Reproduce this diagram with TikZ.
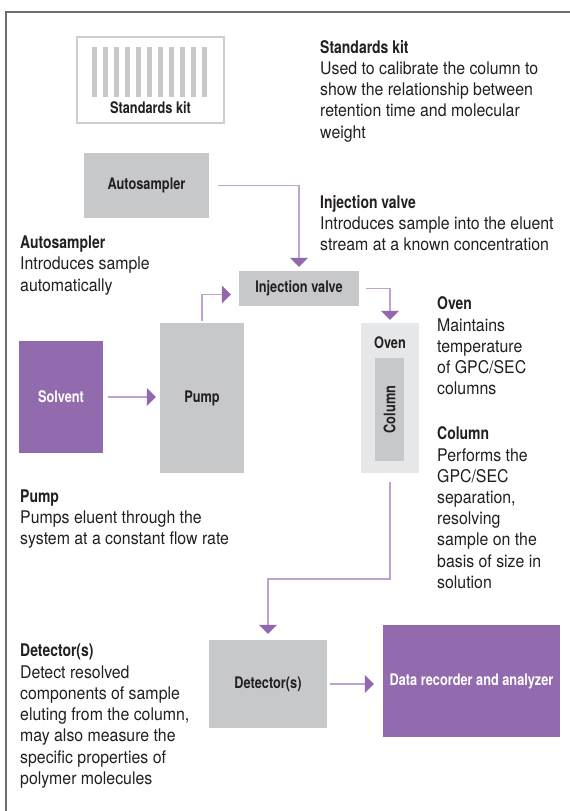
\documentclass[tikz,border=0pt]{standalone}
\usepackage{fontspec}
\setmainfont{TeX Gyre Heros}[FakeStretch=0.91]
\newfontfamily\headfont{TeX Gyre Heros}[FakeStretch=0.8]
\usepackage{tikz}
\usetikzlibrary{arrows.meta}
\usetikzlibrary{positioning}
\definecolor{boxgray}{HTML}{C7C8CA}
\definecolor{ovengray}{HTML}{E6E7E8}
\definecolor{kitline}{HTML}{CDCDCF}
\definecolor{violet}{HTML}{926BAE}
\definecolor{flowline}{HTML}{BEA2D2}
\definecolor{tipviolet}{HTML}{9367AF}
\definecolor{frame}{HTML}{6D6E71}
\definecolor{ink}{HTML}{231F20}
\begin{document}
\begin{tikzpicture}[x=1bp,y=-1bp,line cap=butt,line join=miter,
  >={Triangle[width=18bp,length=9bp,color=tipviolet]},
  unit/.style={fill=boxgray,draw=none,inner sep=0,text=ink,font=\headfont\bfseries\fontsize{16}{19}\selectfont},
  source/.style={unit,fill=violet,text=white},
  note/.style={anchor=north west,inner sep=0,align=left,text=ink,font=\fontsize{17.5}{21.3}\selectfont},
  flow/.style={draw=flowline,line width=1.5bp,->}]
\useasboundingbox (0,0) rectangle (570,811);
\draw[color=frame][line width=1.2bp] (570,12)-- (6,12)-- (6,811);
\node[unit,fill=white,draw=kitline,line width=1.5bp,minimum width=147bp,minimum height=86bp] (kit) at (150.5,80) {};
\foreach \i in {0,...,10}
  \fill[color=boxgray] (91.7+11*\i,47) rectangle (97.2+11*\i,97);
\node[unit,fill=none] (kitlabel) at (150.5,108) {Standards kit};
\node[unit,minimum width=125bp,minimum height=65bp] (auto) at (146.5,185.5) {Autosampler};
\node[unit,minimum width=120bp,minimum height=35bp] (valve) at (299,288.5) {Injection valve};
\node[source,minimum width=84bp,minimum height=112bp] (solvent) at (61,397) {Solvent};
\node[unit,minimum width=84bp,minimum height=150bp] (pump) at (202,398) {Pump};
\node[unit,fill=ovengray,minimum width=58bp,minimum height=150bp] (oven) at (390,398) {};
\node[unit,fill=none] (ovenlabel) at (390,343) {Oven};
\node[unit,rotate=90,minimum width=103bp,minimum height=29bp] (column) at (389.5,409.5) {Column};
\node[unit,minimum width=118bp,minimum height=88bp] (det) at (268,684) {Detector(s)};
\node[source,minimum width=177bp,minimum height=112bp] (data) at (471.5,681) {Data recorder and analyzer};
\coordinate (turn) at (0,579);
\draw[flow,shorten <=9bp,shorten >=4bp] (auto.east) -| (valve.north);
\draw[flow,shorten <=2bp,shorten >=8bp] (pump.north) |- ([yshift=-6bp]valve.west);
\draw[flow,shorten <=7bp,shorten >=3bp] (valve.east) -| (oven.north);
\draw[flow,shorten <=5bp,shorten >=4bp] (solvent.east) -- (pump.west |- solvent.east);
\draw[flow,shorten <=9bp,shorten >=6bp] (oven.south) -- (oven.south |- turn) -| (det.north);
\draw[flow,shorten <=3bp,shorten >=9bp] (det.east) -- (data.west |- det.east);
\node[note] (kitnote) at (320,40) {{\headfont\bfseries Standards kit}\\Used to calibrate the column to\\show the relationship between\\retention time and molecular\\weight};
\node[note] (valvenote) at (320,195) {{\headfont\bfseries Injection valve}\\Introduces sample into the eluent\\stream at a known concentration};
\node[note] (autonote) at (20,235.7) {{\headfont\bfseries Autosampler}\\Introduces sample\\automatically};
\node[note] (ovennote) at (437,296.7) {{\headfont\bfseries Oven}\\Maintains\\temperature\\of GPC/SEC\\columns};
\node[note] (columnnote) at (437,426.7) {{\headfont\bfseries Column}\\Performs the\\GPC/SEC\\separation,\\resolving\\sample on the\\basis of size in\\solution};
\node[note] (pumpnote) at (20,489.3) {{\headfont\bfseries Pump}\\Pumps eluent through the\\system at a constant flow rate};
\node[note] (detnote) at (20,644) {{\headfont\bfseries Detector(s)}\\Detect resolved\\components of sample\\eluting from the column,\\may also measure the\\specific properties of\\polymer molecules};
\end{tikzpicture}
\end{document}
